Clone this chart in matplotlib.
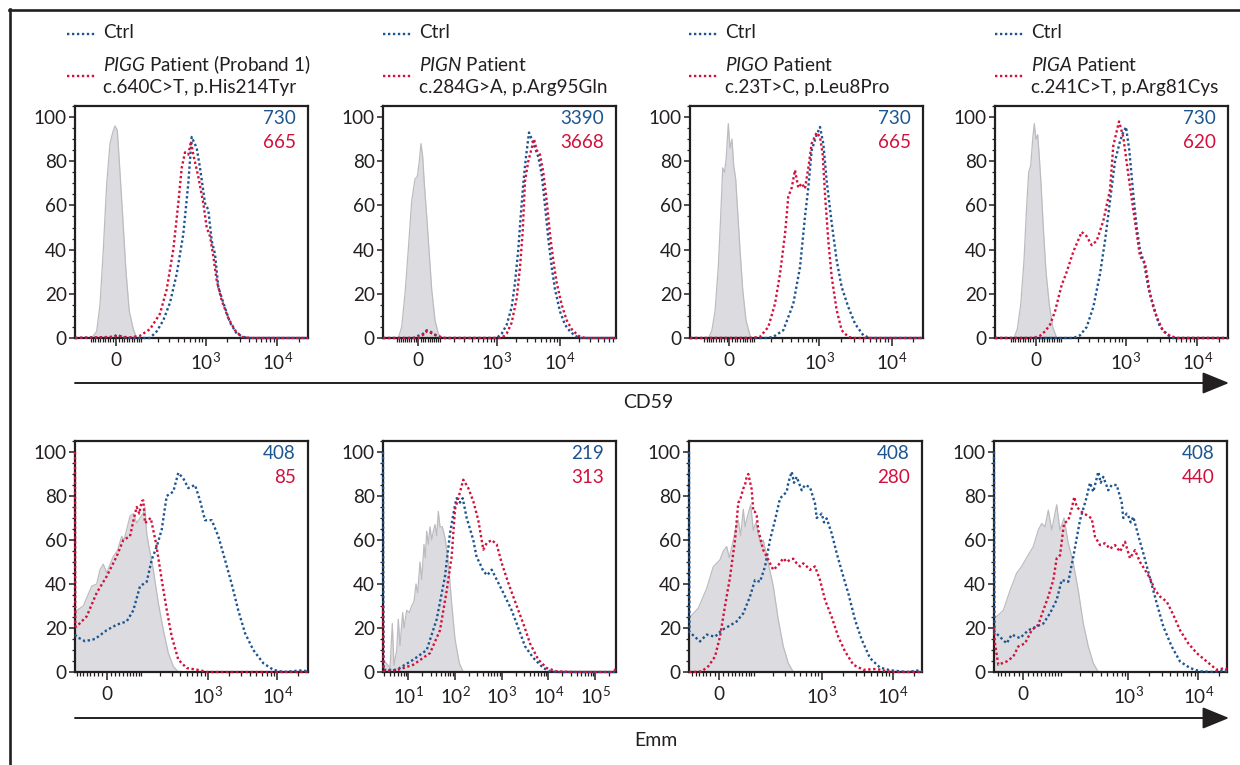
import numpy as np
import matplotlib
matplotlib.use('Agg')
import matplotlib.pyplot as plt
from matplotlib.lines import Line2D
from matplotlib.patches import FancyArrowPatch
from matplotlib.ticker import MultipleLocator, FixedLocator

plt.rcParams['font.family'] = ['Lato', 'DejaVu Sans']
plt.rcParams['mathtext.fontset'] = 'custom'
plt.rcParams['mathtext.rm'] = 'Lato'
plt.rcParams['mathtext.it'] = 'Lato:italic'
plt.rcParams['mathtext.default'] = 'regular'

BLUE = '#1d5591'
RED = '#d3103c'
GRAY_FILL = '#dcdce0'
GRAY_EDGE = '#bcbcc0'
INK = '#231f20'
FS = 13.6

# ---------------- data (x in display channels, y in % of max) ----------------
# CD59 / PIGG
t1_iso_x = [16.7, 21.7, 25.0, 28.3, 31.7, 35.0, 37.7, 40.0, 42.3, 44.3, 47.7, 51.0, 54.3, 58.3, 61.7]
t1_iso_y = [0, 3, 15, 40, 70, 88, 93, 96, 94, 80, 55, 30, 12, 4, 0]
t1_ctl_x = [0, 38.3, 42.3, 46.7, 51.7, 75, 81.7, 88.3, 95, 101.7, 108.3, 113.3, 116.7, 121.7, 125, 130, 133.3, 136.7,
            140, 143.3, 148.3, 155, 161.7, 168.3, 175, 233]
t1_ctl_y = [0, 0.5, 1.5, 0.5, 0, 0, 3, 8, 16, 29, 47, 70, 91, 86, 77, 61, 58, 44, 38, 23, 16, 7, 2, 0.5, 0, 0]
t1_pat_x = [0, 38.3, 43.3, 48.3, 55, 65, 75, 85, 91.7, 98.3, 103.3, 106.7, 110, 113.3, 116, 118.3, 123.3, 128.3,
            131.7, 135, 138.3, 141.7, 146.7, 153.3, 160, 166.7, 175, 233]
t1_pat_y = [0, 0.5, 1, 0.5, 0.3, 1, 4, 11, 22, 40, 61, 77, 84, 83, 89, 83, 73, 61, 50, 46, 37, 26, 17, 9, 3.5, 0.5, 0, 0]

# CD59 / PIGN
t2_iso_x = [15.3, 18.7, 22, 25.3, 28.7, 32, 34.3, 36.3, 38, 39.7, 41.3, 43.7, 46.3, 48.7, 52, 55.3, 58.7]
t2_iso_y = [0, 5, 20, 40, 62, 72, 73, 80, 88, 82, 70, 55, 38, 22, 8, 2, 0]
t2_ctl_x = [0, 30.3, 35.3, 40.3, 43.7, 47, 52, 57, 62, 113.7, 118.7, 123.7, 128.7, 132, 135.3, 137.7, 140.3, 143,
            146, 148.7, 152, 155.3, 158.7, 162, 165.3, 168.7, 172, 177, 182, 187, 192, 197, 233]
t2_ctl_y = [0, 0, 1, 2, 3.5, 3, 1.5, 0.5, 0, 0, 2, 6, 14, 25, 40, 55, 70, 82, 93, 90, 86, 82, 74, 60, 45, 32, 22,
            12, 6, 3, 1, 0, 0]
t2_pat_x = [0, 35.3, 40.3, 43.7, 47, 53.7, 60.3, 118.7, 123.7, 128.7, 133.7, 137, 139.7, 142, 145.3, 148.7, 151,
            153.7, 157, 160.3, 163.7, 167, 170.3, 173.7, 178.7, 183.7, 188.7, 195.3, 202, 233]
t2_pat_y = [0, 0, 1.5, 3, 2.5, 1, 0, 0, 2, 7, 18, 32, 48, 71, 80, 86, 90, 85, 83, 75, 62, 47, 35, 25, 15, 8, 4, 1,
            0, 0]

# CD59 / PIGO
t3_iso_x = [18.3, 21.7, 25, 28.3, 30.7, 32.7, 34.7, 36.3, 38.3, 40, 42, 43.7, 45.7, 47.3, 50, 52.7, 56, 60.7]
t3_iso_y = [0, 3, 12, 32, 55, 77, 75, 82, 97, 86, 90, 78, 72, 60, 40, 22, 8, 0]
t3_ctl_x = [0, 76.7, 83.3, 93.3, 103.3, 110, 115, 118.3, 121.7, 126.7, 130, 133.3, 136.7, 141.7, 146.7, 151.7,
            158.3, 165, 173.3, 180, 233]
t3_ctl_y = [0, 0, 0.5, 3.5, 15.5, 32, 55, 68, 85, 92, 95.5, 88, 71, 52, 35, 23, 14, 6.5, 1.2, 0, 0]
t3_pat_x = [0, 60, 70, 78.3, 85, 90, 95, 98.3, 101.7, 105, 108.3, 111.7, 115, 118.3, 121.7, 126.7, 130, 132.7,
            135, 138.3, 141.7, 146.7, 151.7, 158.3, 163.3, 233]
t3_pat_y = [0, 0, 0.5, 5, 15.5, 29, 47, 64, 68, 76, 68, 70, 67.6, 77, 88, 93, 91, 83, 65, 44, 27.6, 12.5, 3.5,
            0.5, 0, 0]

# CD59 / PIGA
t4_iso_x = [19, 22.3, 25.7, 29, 31.7, 33.7, 35.7, 37.7, 39.3, 41, 42.7, 44.3, 46, 48.3, 51, 54.3, 57.7, 61.7]
t4_iso_y = [0, 4, 15, 35, 60, 75, 78, 90, 97, 90, 92, 82, 70, 50, 30, 15, 5, 0]
t4_ctl_x = [0, 78.3, 85, 91.7, 98.3, 105, 110, 115, 120, 125, 127.7, 131, 134.3, 138.3, 141.7, 145, 149, 153.3,
            158.3, 165, 173.3, 178.3, 233]
t4_ctl_y = [0, 0, 1.2, 5, 14, 29, 44, 62, 80, 89, 92.5, 95.5, 85, 65, 50, 40, 34, 23, 14, 5, 1.2, 0, 0]
t4_pat_x = [0, 38.3, 45, 50, 55, 60, 63.3, 66.7, 71, 78.3, 86.7, 91.7, 96.7, 101.7, 108.3, 115, 118.3, 124,
            128.3, 133.3, 138.3, 145, 150, 155, 161.7, 168.3, 175, 181.7, 233]
t4_pat_y = [0, 0, 1, 3, 6, 12, 18, 24, 29, 39, 48, 46, 42, 44, 53, 67, 87, 98, 91, 74, 58, 37, 34, 20, 9.5, 3,
            1, 0, 0]

# Emm / PIGG
b1_iso_x = [0, 1.7, 8.3, 16.7, 21.7, 25, 28.3, 31.7, 38.3, 42.3, 46.7, 49, 51.7, 55, 58.3, 61.7, 65, 68.3, 70,
            71.7, 73.3, 78.3, 83.3, 88.3, 93.3, 98.3, 103.3]
b1_iso_y = [25, 28, 30, 39, 40, 46.5, 49, 45, 52.6, 55, 61.7, 60, 64.7, 70.8, 72, 67.7, 70, 72.3, 75, 63, 58.6,
            46.5, 31.4, 19.2, 8.6, 2.6, 0]
b1_ctl_x = [0, 1.7, 10, 20, 31.7, 41.7, 51.7, 58.3, 65, 71.7, 76.7, 81.7, 86.7, 91.7, 98.3, 103.3, 108.3, 113.3,
            120, 125, 130, 136.7, 143.3, 150, 156.7, 163.3, 170, 178.3, 188.3, 198.3, 208.3, 228.3, 233]
b1_ctl_y = [17, 16, 14, 15, 19, 21.5, 23, 28, 39, 41, 51, 57, 64.7, 80, 82, 90.5, 88, 83.6, 85, 78, 69, 69, 61.7,
            51, 40, 28, 17.7, 10, 4, 1, 0, 0.8, 0]
b1_pat_x = [0, 0.3, 1.7, 11.7, 21.7, 31.7, 41.7, 48.3, 55, 59, 61.7, 64.3, 66.7, 68.3, 70, 75.7, 81, 86.7, 91.7,
            96.7, 103.3, 111.7, 125, 131.7, 233]
b1_pat_y = [100, 20.7, 20.7, 25.3, 36, 43.5, 52.6, 60, 61.7, 70, 75, 72, 77.6, 78, 67.7, 70, 58.6, 42, 28.3,
            16.2, 5.6, 1.8, 0.8, 0, 0]

# Emm / PIGN
b2_iso_x = [0, 1.3, 7, 9.3, 11, 13.7, 15.3, 17, 19.7, 21, 23.7, 26.3, 28.7, 31, 33, 34.7, 37, 38.7, 41, 42.3,
            43.7, 45.3, 47, 48.7, 50.3, 52, 53.7, 55.3, 57, 59.3, 62, 65.3, 68.7, 72, 76.3, 80.3]
b2_iso_y = [3, 5, 2, 22, 3, 10, 24, 12, 27, 20, 28, 27, 30, 32, 40, 36, 50, 42, 58, 52, 64, 58, 66, 60, 64, 67,
            62, 73, 66, 66, 61, 50, 31, 15, 4, 0]
b2_ctl_x = [0, 0.5, 3.7, 13.7, 30.3, 43.7, 53.7, 62, 67, 72, 73.7, 77, 79.7, 83.7, 90.3, 93.7, 96.3, 100.3,
            104.3, 108.7, 113.7, 120.3, 128.7, 133.7, 142, 150.3, 160.3, 167, 173.7, 233]
b2_ctl_y = [100, 1, 1, 1, 5.6, 10, 24, 43.5, 63, 76, 79, 77, 79, 70, 60, 52, 50, 45.8, 44, 46.5, 42, 36, 28, 22,
            11.7, 6.4, 1.8, 0.3, 0, 0]
b2_pat_x = [0, 0.5, 13.7, 30.3, 47, 57, 63.7, 68.7, 72, 75.3, 80.3, 85.3, 90.3, 95.3, 100.3, 103.7, 108.7, 113.7,
            118.7, 125.3, 133.7, 140.3, 147, 155.3, 163.7, 173.7, 190.3, 230.3, 233]
b2_pat_y = [30, 0.5, 0.8, 3.3, 8.6, 19, 37, 52.6, 74, 79, 87.4, 83.6, 77.6, 69, 55.6, 58.6, 60, 58, 49.5, 40.5,
            30, 22, 13, 5.6, 1.8, 0.3, 0, 0, 1.5]

# Emm / PIGO
b3_iso_x = [0, 1, 9.3, 17.7, 24.3, 31, 34.3, 37.7, 40.3, 44.3, 47, 49.3, 51.7, 54.3, 56, 58.3, 61.7, 64.3, 67,
            69.3, 71.7, 74.3, 79.3, 84.3, 89.3, 94.3, 99.3, 104.3]
b3_iso_y = [25, 25, 29, 38, 47.9, 51, 55, 57, 52, 60, 66, 69, 62, 74, 66, 70.5, 76, 64.5, 68, 63, 58, 60, 49.4,
            39, 23.7, 11.6, 4, 0]
b3_ctl_x = [0, 0.5, 1.7, 11, 17.7, 26, 32.7, 39.3, 47.7, 54.3, 61, 66, 71, 76, 81, 86, 91, 97.7, 99.3, 102.7,
            105, 107.7, 112.7, 116, 121, 126, 127.7, 131, 132.7, 135, 137.7, 142.7, 147.7, 154.3, 159.3, 166,
            172.7, 181, 191, 201, 217.7, 231, 233]
b3_ctl_y = [100, 18, 17.7, 13.9, 17, 16, 19, 20.7, 23, 26.7, 34.3, 41.8, 41, 47.9, 60, 69, 78.9, 81.9, 86, 91,
            86, 88.7, 82.6, 85, 84, 76.6, 70, 71.3, 72, 68, 69.8, 63, 54, 43.4, 35.8, 23.7, 14.7, 6.3, 2, 0.8, 0,
            0.8, 0]
b3_pat_x = [0, 4.3, 12.7, 19.3, 26, 31, 36, 41, 46, 49.3, 51, 54.3, 56, 57.7, 59.3, 62.7, 64.3, 66, 67.7, 69.3,
            74.3, 79.3, 84.3, 89.3, 94.3, 97.7, 101, 104.3, 107.7, 111, 114.3, 117.7, 121, 126, 131, 136, 142.7,
            149.3, 156, 164.3, 174.3, 187.7, 197.7, 204.3, 233]
b3_pat_y = [0, 0, 0.3, 2.6, 7, 16, 30, 43, 60, 77, 78, 83.4, 85, 88.7, 90, 83, 73, 72.8, 71, 64.5, 55.4, 51,
            46.4, 48.6, 51.7, 50, 51, 51.5, 49.4, 48, 49.4, 48, 46.4, 48, 41.8, 32.8, 25, 16, 9.4, 3.3, 1, 1.4,
            0.3, 0, 0]

# Emm / PIGA
b4_iso_x = [0, 2, 9.3, 16, 22.7, 27.7, 32.7, 39.3, 44.3, 47.7, 51, 54.3, 57.7, 62.7, 66, 70, 74.3, 79.3, 84.3,
            89.3, 94.3, 99.3, 104.3]
b4_iso_y = [25, 25, 28, 37, 45, 48, 52, 57, 64.5, 67.5, 66, 73.6, 64.5, 76, 64.5, 70, 58.5, 49.4, 37, 22, 11.6,
            4, 0]
b4_ctl_x = [0, 0.5, 2, 12.7, 17.7, 26, 34.3, 42.7, 49.3, 56, 62.7, 67.7, 74.3, 79.3, 86, 92.7, 96, 99.3, 104.3,
            106.7, 109.3, 114.3, 117.7, 122.7, 127.7, 129.3, 132.7, 134.3, 136.7, 139.3, 144.3, 149.3, 156, 162.7,
            169.3, 177.7, 186, 196, 206, 219.3, 231, 233]
b4_ctl_y = [100, 18, 17.7, 13, 17, 15.4, 19, 20.7, 22, 26.7, 32.8, 41.8, 41, 52.4, 69, 79.6, 86, 81.9, 91, 86,
            88.7, 82.6, 85, 85, 77, 70, 72, 71, 68, 70.5, 62, 54, 42.6, 31.3, 20.7, 11.6, 4.8, 1.8, 0.3, 0, 0.8, 0]
b4_pat_x = [0, 1, 4.3, 12.7, 19.3, 24.3, 31, 37.7, 44.3, 49.3, 54.3, 59.3, 62.7, 66, 70, 74.3, 77.7, 80.3, 82.7,
            87.7, 92.7, 97.7, 101, 106, 111, 116, 121, 126, 131, 136, 141, 146, 151, 156, 161, 166, 172.7, 179.3,
            186, 194.3, 202.7, 212.7, 222.7, 231, 233]
b4_pat_y = [20, 13, 3.3, 4.8, 7, 11.6, 13, 19, 21.5, 28, 34.3, 41.8, 51.7, 53, 67.5, 69, 74.3, 79.6, 75, 72.8,
            71.3, 69.8, 61.5, 57.7, 58.5, 56, 57.7, 54.7, 59.2, 51.7, 55.4, 50, 46.4, 42.6, 37.3, 34.3, 32, 26, 19,
            13, 8.6, 4.8, 1, 1.8, 1]

# MFI values shown in each panel (control, patient)
top_mfi = [('730', '665'), ('3390', '3668'), ('730', '665'), ('730', '620')]
bottom_mfi = [('408', '85'), ('219', '313'), ('408', '280'), ('408', '440')]

genes = ['PIGG', 'PIGN', 'PIGO', 'PIGA']
gene_suffix = [' Patient (Proband 1)', ' Patient', ' Patient', ' Patient']
variants = ['c.640C>T, p.His214Tyr', 'c.284G>A, p.Arg95Gln', 'c.23T>C, p.Leu8Pro', 'c.241C>T, p.Arg81Cys']
ctrl_label = 'Ctrl'
top_axis_label = 'CD59'
bottom_axis_label = 'Emm'

top_series = [(t1_iso_x, t1_iso_y, t1_ctl_x, t1_ctl_y, t1_pat_x, t1_pat_y),
              (t2_iso_x, t2_iso_y, t2_ctl_x, t2_ctl_y, t2_pat_x, t2_pat_y),
              (t3_iso_x, t3_iso_y, t3_ctl_x, t3_ctl_y, t3_pat_x, t3_pat_y),
              (t4_iso_x, t4_iso_y, t4_ctl_x, t4_ctl_y, t4_pat_x, t4_pat_y)]
bottom_series = [(b1_iso_x, b1_iso_y, b1_ctl_x, b1_ctl_y, b1_pat_x, b1_pat_y),
                 (b2_iso_x, b2_iso_y, b2_ctl_x, b2_ctl_y, b2_pat_x, b2_pat_y),
                 (b3_iso_x, b3_iso_y, b3_ctl_x, b3_ctl_y, b3_pat_x, b3_pat_y),
                 (b4_iso_x, b4_iso_y, b4_ctl_x, b4_ctl_y, b4_pat_x, b4_pat_y)]

# ---------------- axis geometry (display scale per panel) ----------------
top_scales = [('biex', 41, 71.6, 112), ('biex', 35.3, 63.3, 116), ('biex', 39.3, 72.4, 114.5),
              ('biex', 41, 71.6, 112)]
bottom_scales = [('biex', 31.7, 69.6, 70.8), ('log', 25.3, 46.7), ('biex', 30, 71, 71.6),
                 ('biex', 29.3, 70, 63.3)]

W, H = 1240, 765
fig = plt.figure(figsize=(W / 100, H / 100), dpi=100)


def rect(left, top, w, h):
    return [left / W, 1 - (top + h) / H, w / W, h / H]


XMAX = 233


def scale_ticks(sc):
    if sc[0] == 'biex':
        _, p0, dec, w = sc
        pos = lambda v: p0 + dec * np.arcsinh(v / w) / np.log(10)
        majors = [(0, '0'), (1e3, '$10^3$'), (1e4, '$10^4$')]
        minors = []
        for n in range(1, 5):
            for k in range(1, 10):
                for s in (-1, 1):
                    minors.append(s * k * 10 ** n)
    else:
        _, p10, dec = sc
        pos = lambda v: p10 + dec * (np.log10(v) - 1)
        majors = [(10 ** n, '$10^{%d}$' % n) for n in range(1, 6)]
        minors = [k * 10 ** n for n in range(0, 6) for k in range(2, 10)]
    maj_pos = [pos(v) for v, _ in majors]
    maj_lab = [l for _, l in majors]
    min_pos = [pos(v) for v in minors if 0.5 < pos(v) < XMAX - 0.5]
    return maj_pos, maj_lab, min_pos


def draw_panel(ax, series, sc, mfi):
    iso_x, iso_y, ctl_x, ctl_y, pat_x, pat_y = series
    ax.fill_between(iso_x, iso_y, 0, color=GRAY_FILL, lw=0, zorder=1)
    ax.plot(iso_x, iso_y, color=GRAY_EDGE, lw=0.9, zorder=1.2)
    for xs, ys, c in ((ctl_x, ctl_y, BLUE), (pat_x, pat_y, RED)):
        ax.plot(xs, ys, color=c, lw=1.7, linestyle=(0, (1, 1.1)), dash_capstyle='butt',
                zorder=3, clip_on=False)
    ax.set_xlim(0, XMAX)
    ax.set_ylim(0, 105)
    maj_pos, maj_lab, min_pos = scale_ticks(sc)
    ax.xaxis.set_major_locator(FixedLocator(maj_pos))
    ax.set_xticklabels(maj_lab)
    ax.xaxis.set_minor_locator(FixedLocator(min_pos))
    ax.yaxis.set_major_locator(MultipleLocator(20))
    ax.yaxis.set_minor_locator(MultipleLocator(5))
    ax.tick_params(axis='x', which='major', direction='out', length=6, width=1.1, colors=INK,
                   labelsize=FS, pad=4)
    ax.tick_params(axis='x', which='minor', direction='out', length=3, width=0.9, colors=INK)
    ax.tick_params(axis='y', which='major', direction='out', length=4, width=1.1, colors=INK,
                   labelsize=FS, pad=2)
    ax.tick_params(axis='y', which='minor', direction='out', length=2.2, width=0.9, colors=INK)
    for s in ax.spines.values():
        s.set_linewidth(1.6)
        s.set_color(INK)
        s.set_zorder(2.5)
    ax.text(0.948, 0.948, mfi[0], transform=ax.transAxes, ha='right', va='center', color=BLUE, fontsize=FS)
    ax.text(0.948, 0.842, mfi[1], transform=ax.transAxes, ha='right', va='center', color=RED, fontsize=FS)


top_lefts = [75, 383, 690, 995]
bottom_lefts = [75, 383, 689, 994]
legend_starts = [67, 383, 689, 995]

for i in range(4):
    ax = fig.add_axes(rect(top_lefts[i], 106, 233, 232))
    draw_panel(ax, top_series[i], top_scales[i], top_mfi[i])
    ax = fig.add_axes(rect(bottom_lefts[i], 441, 233, 231))
    draw_panel(ax, bottom_series[i], bottom_scales[i], bottom_mfi[i])

    # legend
    x0 = legend_starts[i]
    for yy, c in ((34, BLUE), (76, RED)):
        fig.add_artist(Line2D([x0 / W, (x0 + 28) / W], [1 - yy / H, 1 - yy / H], color=c, lw=1.7,
                              linestyle=(0, (1, 1.1)), dash_capstyle='butt'))
    fig.text((x0 + 36) / W, 1 - 33 / H, ctrl_label, ha='left', va='center', fontsize=FS, color=INK)
    fig.text((x0 + 36) / W, 1 - 65 / H, r'$\mathit{%s}$%s' % (genes[i], gene_suffix[i]),
             ha='left', va='center', fontsize=FS, color=INK)
    fig.text((x0 + 36) / W, 1 - 88 / H, variants[i], ha='left', va='center', fontsize=FS, color=INK)

# axis arrows
for yy, lab, ly, lx in ((383, top_axis_label, 402, 648), (718, bottom_axis_label, 740, 656)):
    fig.add_artist(FancyArrowPatch(
        (75 / W, 1 - yy / H), (1229 / W, 1 - yy / H), transform=fig.transFigure,
        arrowstyle='-|>,head_length=1.1,head_width=0.45', mutation_scale=15, lw=1.4, color=INK,
        shrinkA=0, shrinkB=0))
    fig.text(lx / W, 1 - ly / H, lab, ha='center', va='center', fontsize=14, color=INK)

# outer frame (left and top edges)
fig.add_artist(Line2D([9.5 / W, 9.5 / W], [0, 1 - 8.5 / H], color=INK, lw=1.9))
fig.add_artist(Line2D([8.5 / W, 1], [1 - 9.5 / H, 1 - 9.5 / H], color=INK, lw=1.9))

fig.savefig('out.png', dpi=100, facecolor='white')
